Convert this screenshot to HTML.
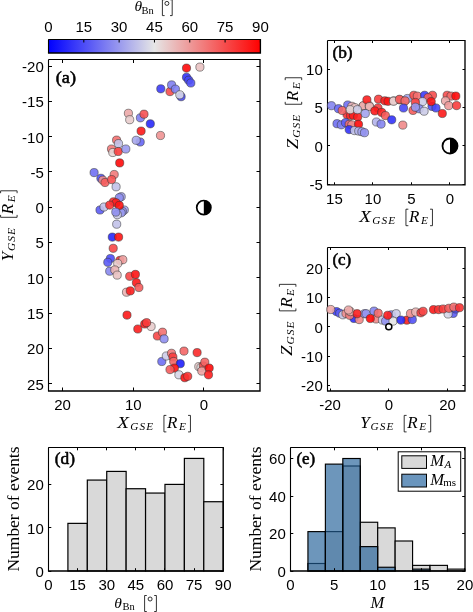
<!DOCTYPE html><html><head><meta charset="utf-8"><style>html,body{margin:0;padding:0;background:#fff;width:473px;height:612px;overflow:hidden}svg{display:block;will-change:transform}</style></head><body>
<svg width="473" height="612" viewBox="0 0 473 612">
<rect width="473" height="612" fill="#fff"/>
<defs><linearGradient id="cbg" x1="0" y1="0" x2="1" y2="0"><stop offset="0.0000" stop-color="#0000ff"/><stop offset="0.0556" stop-color="#1919fc"/><stop offset="0.1111" stop-color="#3333f9"/><stop offset="0.1667" stop-color="#4c4cf7"/><stop offset="0.2222" stop-color="#6666f4"/><stop offset="0.2778" stop-color="#8080f1"/><stop offset="0.3333" stop-color="#9999ee"/><stop offset="0.3889" stop-color="#b3b3eb"/><stop offset="0.4444" stop-color="#cccce8"/><stop offset="0.5000" stop-color="#e6e6e6"/><stop offset="0.5556" stop-color="#e8cccc"/><stop offset="0.6111" stop-color="#ebb2b2"/><stop offset="0.6667" stop-color="#ee9999"/><stop offset="0.7222" stop-color="#f18080"/><stop offset="0.7778" stop-color="#f46666"/><stop offset="0.8333" stop-color="#f64c4c"/><stop offset="0.8889" stop-color="#f93333"/><stop offset="0.9444" stop-color="#fc1a1a"/><stop offset="1.0000" stop-color="#ff0000"/></linearGradient></defs>
<rect x="48.5" y="39.5" width="211.89999999999998" height="13.5" fill="url(#cbg)"/>
<path d="M48.5 39.5 H260.4 M48.5 39.5 V53.0" fill="none" stroke="#000" stroke-width="1.1"/>
<path d="M47.95 53.0 H260.4 V38.95" fill="none" stroke="#000" stroke-width="1.35"/>
<line x1="48.50" y1="39.5" x2="48.50" y2="42.5" stroke="#000" stroke-width="1"/>
<text x="48.50" y="31.5" text-anchor="middle" font-family='"Liberation Sans", sans-serif' font-size="15.0" >0</text>
<line x1="83.82" y1="39.5" x2="83.82" y2="42.5" stroke="#000" stroke-width="1"/>
<text x="83.82" y="31.5" text-anchor="middle" font-family='"Liberation Sans", sans-serif' font-size="15.0" >15</text>
<line x1="119.13" y1="39.5" x2="119.13" y2="42.5" stroke="#000" stroke-width="1"/>
<text x="119.13" y="31.5" text-anchor="middle" font-family='"Liberation Sans", sans-serif' font-size="15.0" >30</text>
<line x1="154.45" y1="39.5" x2="154.45" y2="42.5" stroke="#000" stroke-width="1"/>
<text x="154.45" y="31.5" text-anchor="middle" font-family='"Liberation Sans", sans-serif' font-size="15.0" >45</text>
<line x1="189.77" y1="39.5" x2="189.77" y2="42.5" stroke="#000" stroke-width="1"/>
<text x="189.77" y="31.5" text-anchor="middle" font-family='"Liberation Sans", sans-serif' font-size="15.0" >60</text>
<line x1="225.08" y1="39.5" x2="225.08" y2="42.5" stroke="#000" stroke-width="1"/>
<text x="225.08" y="31.5" text-anchor="middle" font-family='"Liberation Sans", sans-serif' font-size="15.0" >75</text>
<line x1="260.40" y1="39.5" x2="260.40" y2="42.5" stroke="#000" stroke-width="1"/>
<text x="260.40" y="31.5" text-anchor="middle" font-family='"Liberation Sans", sans-serif' font-size="15.0" >90</text>
<path d="M48.5 59.5 H260.0 M48.5 59.5 V391.0" fill="none" stroke="#000" stroke-width="1.1"/>
<path d="M47.95 391.0 H260.0 V58.95" fill="none" stroke="#000" stroke-width="1.35"/>
<line x1="62.5" y1="391.0" x2="62.5" y2="387.5" stroke="#000" stroke-width="1"/>
<line x1="62.5" y1="59.5" x2="62.5" y2="63.0" stroke="#000" stroke-width="1"/>
<line x1="133.5" y1="391.0" x2="133.5" y2="387.5" stroke="#000" stroke-width="1"/>
<line x1="133.5" y1="59.5" x2="133.5" y2="63.0" stroke="#000" stroke-width="1"/>
<line x1="203.5" y1="391.0" x2="203.5" y2="387.5" stroke="#000" stroke-width="1"/>
<line x1="203.5" y1="59.5" x2="203.5" y2="63.0" stroke="#000" stroke-width="1"/>
<line x1="48.5" y1="66.5" x2="52.0" y2="66.5" stroke="#000" stroke-width="1"/>
<line x1="260.0" y1="66.5" x2="256.5" y2="66.5" stroke="#000" stroke-width="1"/>
<line x1="48.5" y1="101.5" x2="52.0" y2="101.5" stroke="#000" stroke-width="1"/>
<line x1="260.0" y1="101.5" x2="256.5" y2="101.5" stroke="#000" stroke-width="1"/>
<line x1="48.5" y1="136.5" x2="52.0" y2="136.5" stroke="#000" stroke-width="1"/>
<line x1="260.0" y1="136.5" x2="256.5" y2="136.5" stroke="#000" stroke-width="1"/>
<line x1="48.5" y1="171.5" x2="52.0" y2="171.5" stroke="#000" stroke-width="1"/>
<line x1="260.0" y1="171.5" x2="256.5" y2="171.5" stroke="#000" stroke-width="1"/>
<line x1="48.5" y1="207.5" x2="52.0" y2="207.5" stroke="#000" stroke-width="1"/>
<line x1="260.0" y1="207.5" x2="256.5" y2="207.5" stroke="#000" stroke-width="1"/>
<line x1="48.5" y1="242.5" x2="52.0" y2="242.5" stroke="#000" stroke-width="1"/>
<line x1="260.0" y1="242.5" x2="256.5" y2="242.5" stroke="#000" stroke-width="1"/>
<line x1="48.5" y1="277.5" x2="52.0" y2="277.5" stroke="#000" stroke-width="1"/>
<line x1="260.0" y1="277.5" x2="256.5" y2="277.5" stroke="#000" stroke-width="1"/>
<line x1="48.5" y1="313.5" x2="52.0" y2="313.5" stroke="#000" stroke-width="1"/>
<line x1="260.0" y1="313.5" x2="256.5" y2="313.5" stroke="#000" stroke-width="1"/>
<line x1="48.5" y1="348.5" x2="52.0" y2="348.5" stroke="#000" stroke-width="1"/>
<line x1="260.0" y1="348.5" x2="256.5" y2="348.5" stroke="#000" stroke-width="1"/>
<line x1="48.5" y1="383.5" x2="52.0" y2="383.5" stroke="#000" stroke-width="1"/>
<line x1="260.0" y1="383.5" x2="256.5" y2="383.5" stroke="#000" stroke-width="1"/>
<text x="62.62" y="410" text-anchor="middle" font-family='"Liberation Sans", sans-serif' font-size="15.0" >20</text>
<text x="133.22" y="410" text-anchor="middle" font-family='"Liberation Sans", sans-serif' font-size="15.0" >10</text>
<text x="203.82" y="410" text-anchor="middle" font-family='"Liberation Sans", sans-serif' font-size="15.0" >0</text>
<text x="43.80" y="71.96" text-anchor="end" font-family='"Liberation Sans", sans-serif' font-size="15.0" >-20</text>
<text x="43.80" y="107.26" text-anchor="end" font-family='"Liberation Sans", sans-serif' font-size="15.0" >-15</text>
<text x="43.80" y="142.56" text-anchor="end" font-family='"Liberation Sans", sans-serif' font-size="15.0" >-10</text>
<text x="43.80" y="177.86" text-anchor="end" font-family='"Liberation Sans", sans-serif' font-size="15.0" >-5</text>
<text x="43.80" y="213.16" text-anchor="end" font-family='"Liberation Sans", sans-serif' font-size="15.0" >0</text>
<text x="43.80" y="248.46" text-anchor="end" font-family='"Liberation Sans", sans-serif' font-size="15.0" >5</text>
<text x="43.80" y="283.76" text-anchor="end" font-family='"Liberation Sans", sans-serif' font-size="15.0" >10</text>
<text x="43.80" y="319.06" text-anchor="end" font-family='"Liberation Sans", sans-serif' font-size="15.0" >15</text>
<text x="43.80" y="354.36" text-anchor="end" font-family='"Liberation Sans", sans-serif' font-size="15.0" >20</text>
<text x="43.80" y="389.66" text-anchor="end" font-family='"Liberation Sans", sans-serif' font-size="15.0" >25</text>
<circle cx="186.5" cy="68.1" r="4.1" fill="#fe0a0a" fill-opacity="0.9" stroke="#333" stroke-opacity="0.7" stroke-width="0.75"/>
<circle cx="199.9" cy="67.1" r="4.1" fill="#e9c2c2" fill-opacity="0.9" stroke="#333" stroke-opacity="0.7" stroke-width="0.75"/>
<circle cx="186.5" cy="77.3" r="4.1" fill="#3333f9" fill-opacity="0.9" stroke="#333" stroke-opacity="0.7" stroke-width="0.75"/>
<circle cx="188.7" cy="80.2" r="4.1" fill="#4747f7" fill-opacity="0.9" stroke="#333" stroke-opacity="0.7" stroke-width="0.75"/>
<circle cx="190.8" cy="83.0" r="4.1" fill="#5252f6" fill-opacity="0.9" stroke="#333" stroke-opacity="0.7" stroke-width="0.75"/>
<circle cx="160.8" cy="88.8" r="4.1" fill="#3d3df8" fill-opacity="0.9" stroke="#333" stroke-opacity="0.7" stroke-width="0.75"/>
<circle cx="170.0" cy="91.6" r="4.1" fill="#f64c4c" fill-opacity="0.9" stroke="#333" stroke-opacity="0.7" stroke-width="0.75"/>
<circle cx="171.6" cy="84.9" r="4.1" fill="#8080f1" fill-opacity="0.9" stroke="#333" stroke-opacity="0.7" stroke-width="0.75"/>
<circle cx="181.1" cy="96.7" r="4.1" fill="#4c4cf7" fill-opacity="0.9" stroke="#333" stroke-opacity="0.7" stroke-width="0.75"/>
<circle cx="175.4" cy="89.1" r="4.1" fill="#8080f1" fill-opacity="0.9" stroke="#333" stroke-opacity="0.7" stroke-width="0.75"/>
<circle cx="179.8" cy="94.8" r="4.1" fill="#d6d6e7" fill-opacity="0.9" stroke="#333" stroke-opacity="0.7" stroke-width="0.75"/>
<circle cx="128.4" cy="113.3" r="4.1" fill="#eca8a8" fill-opacity="0.9" stroke="#333" stroke-opacity="0.7" stroke-width="0.75"/>
<circle cx="129.7" cy="119.7" r="4.1" fill="#e8cccc" fill-opacity="0.9" stroke="#333" stroke-opacity="0.7" stroke-width="0.75"/>
<circle cx="140.4" cy="117.8" r="4.1" fill="#8080f1" fill-opacity="0.9" stroke="#333" stroke-opacity="0.7" stroke-width="0.75"/>
<circle cx="144.0" cy="114.2" r="4.1" fill="#f65252" fill-opacity="0.9" stroke="#333" stroke-opacity="0.7" stroke-width="0.75"/>
<circle cx="150.3" cy="123.8" r="4.1" fill="#2929fa" fill-opacity="0.9" stroke="#333" stroke-opacity="0.7" stroke-width="0.75"/>
<circle cx="141.1" cy="131.1" r="4.1" fill="#fc1a1a" fill-opacity="0.9" stroke="#333" stroke-opacity="0.7" stroke-width="0.75"/>
<circle cx="160.5" cy="135.5" r="4.1" fill="#ef9494" fill-opacity="0.9" stroke="#333" stroke-opacity="0.7" stroke-width="0.75"/>
<circle cx="140.2" cy="142.0" r="4.1" fill="#6666f4" fill-opacity="0.9" stroke="#333" stroke-opacity="0.7" stroke-width="0.75"/>
<circle cx="136.2" cy="140.3" r="4.1" fill="#a8a8ec" fill-opacity="0.9" stroke="#333" stroke-opacity="0.7" stroke-width="0.75"/>
<circle cx="116.6" cy="140.1" r="4.1" fill="#f37070" fill-opacity="0.9" stroke="#333" stroke-opacity="0.7" stroke-width="0.75"/>
<circle cx="118.5" cy="143.6" r="4.1" fill="#c2c2e9" fill-opacity="0.9" stroke="#333" stroke-opacity="0.7" stroke-width="0.75"/>
<circle cx="111.5" cy="149.0" r="4.1" fill="#f17a7a" fill-opacity="0.9" stroke="#333" stroke-opacity="0.7" stroke-width="0.75"/>
<circle cx="112.8" cy="152.5" r="4.1" fill="#e7d6d6" fill-opacity="0.9" stroke="#333" stroke-opacity="0.7" stroke-width="0.75"/>
<circle cx="118.2" cy="151.5" r="4.1" fill="#f83d3d" fill-opacity="0.9" stroke="#333" stroke-opacity="0.7" stroke-width="0.75"/>
<circle cx="125.8" cy="149.0" r="4.1" fill="#9999ee" fill-opacity="0.9" stroke="#333" stroke-opacity="0.7" stroke-width="0.75"/>
<circle cx="119.7" cy="162.9" r="4.1" fill="#fe0a0a" fill-opacity="0.9" stroke="#333" stroke-opacity="0.7" stroke-width="0.75"/>
<circle cx="94.1" cy="172.6" r="4.1" fill="#7070f3" fill-opacity="0.9" stroke="#333" stroke-opacity="0.7" stroke-width="0.75"/>
<circle cx="100.9" cy="178.3" r="4.1" fill="#5252f6" fill-opacity="0.9" stroke="#333" stroke-opacity="0.7" stroke-width="0.75"/>
<circle cx="102.8" cy="180.2" r="4.1" fill="#ef8f8f" fill-opacity="0.9" stroke="#333" stroke-opacity="0.7" stroke-width="0.75"/>
<circle cx="105.0" cy="182.5" r="4.1" fill="#f55c5c" fill-opacity="0.9" stroke="#333" stroke-opacity="0.7" stroke-width="0.75"/>
<circle cx="114.2" cy="174.5" r="4.1" fill="#f17a7a" fill-opacity="0.9" stroke="#333" stroke-opacity="0.7" stroke-width="0.75"/>
<circle cx="111.6" cy="179.6" r="4.1" fill="#f65252" fill-opacity="0.9" stroke="#333" stroke-opacity="0.7" stroke-width="0.75"/>
<circle cx="116.1" cy="186.8" r="4.1" fill="#c2c2e9" fill-opacity="0.9" stroke="#333" stroke-opacity="0.7" stroke-width="0.75"/>
<circle cx="121.2" cy="196.7" r="4.1" fill="#a3a3ed" fill-opacity="0.9" stroke="#333" stroke-opacity="0.7" stroke-width="0.75"/>
<circle cx="119.3" cy="197.7" r="4.1" fill="#8f8fef" fill-opacity="0.9" stroke="#333" stroke-opacity="0.7" stroke-width="0.75"/>
<circle cx="124.3" cy="210.0" r="4.1" fill="#a3a3ed" fill-opacity="0.9" stroke="#333" stroke-opacity="0.7" stroke-width="0.75"/>
<circle cx="122.4" cy="211.5" r="4.1" fill="#9999ee" fill-opacity="0.9" stroke="#333" stroke-opacity="0.7" stroke-width="0.75"/>
<circle cx="121.2" cy="212.8" r="4.1" fill="#9999ee" fill-opacity="0.9" stroke="#333" stroke-opacity="0.7" stroke-width="0.75"/>
<circle cx="117.3" cy="214.7" r="4.1" fill="#cccce8" fill-opacity="0.9" stroke="#333" stroke-opacity="0.7" stroke-width="0.75"/>
<circle cx="113.5" cy="201.8" r="4.1" fill="#fa2929" fill-opacity="0.9" stroke="#333" stroke-opacity="0.7" stroke-width="0.75"/>
<circle cx="116.1" cy="202.8" r="4.1" fill="#fc1f1f" fill-opacity="0.9" stroke="#333" stroke-opacity="0.7" stroke-width="0.75"/>
<circle cx="100.0" cy="210.0" r="4.1" fill="#5c5cf5" fill-opacity="0.9" stroke="#333" stroke-opacity="0.7" stroke-width="0.75"/>
<circle cx="104.0" cy="207.0" r="4.1" fill="#c2c2e9" fill-opacity="0.9" stroke="#333" stroke-opacity="0.7" stroke-width="0.75"/>
<circle cx="109.7" cy="205.1" r="4.1" fill="#f93333" fill-opacity="0.9" stroke="#333" stroke-opacity="0.7" stroke-width="0.75"/>
<circle cx="119.3" cy="205.4" r="4.1" fill="#fd1414" fill-opacity="0.9" stroke="#333" stroke-opacity="0.7" stroke-width="0.75"/>
<circle cx="115.8" cy="212.1" r="4.1" fill="#8f8fef" fill-opacity="0.9" stroke="#333" stroke-opacity="0.7" stroke-width="0.75"/>
<circle cx="116.7" cy="224.2" r="4.1" fill="#c2c2e9" fill-opacity="0.9" stroke="#333" stroke-opacity="0.7" stroke-width="0.75"/>
<circle cx="112.3" cy="237.1" r="4.1" fill="#2929fa" fill-opacity="0.9" stroke="#333" stroke-opacity="0.7" stroke-width="0.75"/>
<circle cx="118.6" cy="237.1" r="4.1" fill="#fd1414" fill-opacity="0.9" stroke="#333" stroke-opacity="0.7" stroke-width="0.75"/>
<circle cx="113.2" cy="248.3" r="4.1" fill="#f74747" fill-opacity="0.9" stroke="#333" stroke-opacity="0.7" stroke-width="0.75"/>
<circle cx="110.4" cy="258.5" r="4.1" fill="#4c4cf7" fill-opacity="0.9" stroke="#333" stroke-opacity="0.7" stroke-width="0.75"/>
<circle cx="107.8" cy="262.3" r="4.1" fill="#5c5cf5" fill-opacity="0.9" stroke="#333" stroke-opacity="0.7" stroke-width="0.75"/>
<circle cx="119.9" cy="260.4" r="4.1" fill="#f93333" fill-opacity="0.9" stroke="#333" stroke-opacity="0.7" stroke-width="0.75"/>
<circle cx="122.8" cy="259.7" r="4.1" fill="#eda3a3" fill-opacity="0.9" stroke="#333" stroke-opacity="0.7" stroke-width="0.75"/>
<circle cx="117.7" cy="263.5" r="4.1" fill="#e8cccc" fill-opacity="0.9" stroke="#333" stroke-opacity="0.7" stroke-width="0.75"/>
<circle cx="109.7" cy="271.2" r="4.1" fill="#8a8af0" fill-opacity="0.9" stroke="#333" stroke-opacity="0.7" stroke-width="0.75"/>
<circle cx="114.8" cy="269.9" r="4.1" fill="#ebb2b2" fill-opacity="0.9" stroke="#333" stroke-opacity="0.7" stroke-width="0.75"/>
<circle cx="117.2" cy="275.1" r="4.1" fill="#e9c2c2" fill-opacity="0.9" stroke="#333" stroke-opacity="0.7" stroke-width="0.75"/>
<circle cx="129.7" cy="276.3" r="4.1" fill="#f74747" fill-opacity="0.9" stroke="#333" stroke-opacity="0.7" stroke-width="0.75"/>
<circle cx="135.4" cy="274.4" r="4.1" fill="#fd1414" fill-opacity="0.9" stroke="#333" stroke-opacity="0.7" stroke-width="0.75"/>
<circle cx="136.4" cy="282.7" r="4.1" fill="#fc1a1a" fill-opacity="0.9" stroke="#333" stroke-opacity="0.7" stroke-width="0.75"/>
<circle cx="138.9" cy="287.5" r="4.1" fill="#f55c5c" fill-opacity="0.9" stroke="#333" stroke-opacity="0.7" stroke-width="0.75"/>
<circle cx="126.5" cy="292.2" r="4.1" fill="#ebb2b2" fill-opacity="0.9" stroke="#333" stroke-opacity="0.7" stroke-width="0.75"/>
<circle cx="130.3" cy="290.9" r="4.1" fill="#fc1f1f" fill-opacity="0.9" stroke="#333" stroke-opacity="0.7" stroke-width="0.75"/>
<circle cx="127.0" cy="315.1" r="4.1" fill="#fc1a1a" fill-opacity="0.9" stroke="#333" stroke-opacity="0.7" stroke-width="0.75"/>
<circle cx="151.1" cy="326.5" r="4.1" fill="#e8cccc" fill-opacity="0.9" stroke="#333" stroke-opacity="0.7" stroke-width="0.75"/>
<circle cx="137.8" cy="329.0" r="4.1" fill="#fc1f1f" fill-opacity="0.9" stroke="#333" stroke-opacity="0.7" stroke-width="0.75"/>
<circle cx="144.7" cy="324.0" r="4.1" fill="#fd1414" fill-opacity="0.9" stroke="#333" stroke-opacity="0.7" stroke-width="0.75"/>
<circle cx="146.6" cy="322.7" r="4.1" fill="#f83d3d" fill-opacity="0.9" stroke="#333" stroke-opacity="0.7" stroke-width="0.75"/>
<circle cx="157.4" cy="336.0" r="4.1" fill="#f74747" fill-opacity="0.9" stroke="#333" stroke-opacity="0.7" stroke-width="0.75"/>
<circle cx="162.5" cy="332.2" r="4.1" fill="#f37070" fill-opacity="0.9" stroke="#333" stroke-opacity="0.7" stroke-width="0.75"/>
<circle cx="164.1" cy="338.9" r="4.1" fill="#8f8fef" fill-opacity="0.9" stroke="#333" stroke-opacity="0.7" stroke-width="0.75"/>
<circle cx="184.0" cy="351.1" r="4.1" fill="#f46666" fill-opacity="0.9" stroke="#333" stroke-opacity="0.7" stroke-width="0.75"/>
<circle cx="197.1" cy="352.6" r="4.1" fill="#fa2929" fill-opacity="0.9" stroke="#333" stroke-opacity="0.7" stroke-width="0.75"/>
<circle cx="161.8" cy="361.5" r="4.1" fill="#7070f3" fill-opacity="0.9" stroke="#333" stroke-opacity="0.7" stroke-width="0.75"/>
<circle cx="166.3" cy="356.0" r="4.1" fill="#cccce8" fill-opacity="0.9" stroke="#333" stroke-opacity="0.7" stroke-width="0.75"/>
<circle cx="171.5" cy="353.3" r="4.1" fill="#f17a7a" fill-opacity="0.9" stroke="#333" stroke-opacity="0.7" stroke-width="0.75"/>
<circle cx="172.9" cy="357.0" r="4.1" fill="#f83d3d" fill-opacity="0.9" stroke="#333" stroke-opacity="0.7" stroke-width="0.75"/>
<circle cx="173.7" cy="361.5" r="4.1" fill="#f46666" fill-opacity="0.9" stroke="#333" stroke-opacity="0.7" stroke-width="0.75"/>
<circle cx="180.3" cy="363.7" r="4.1" fill="#1f1ffc" fill-opacity="0.9" stroke="#333" stroke-opacity="0.7" stroke-width="0.75"/>
<circle cx="174.4" cy="368.1" r="4.1" fill="#fd1414" fill-opacity="0.9" stroke="#333" stroke-opacity="0.7" stroke-width="0.75"/>
<circle cx="170.0" cy="369.6" r="4.1" fill="#f55c5c" fill-opacity="0.9" stroke="#333" stroke-opacity="0.7" stroke-width="0.75"/>
<circle cx="178.9" cy="374.8" r="4.1" fill="#d6d6e7" fill-opacity="0.9" stroke="#333" stroke-opacity="0.7" stroke-width="0.75"/>
<circle cx="184.8" cy="377.7" r="4.1" fill="#fd1414" fill-opacity="0.9" stroke="#333" stroke-opacity="0.7" stroke-width="0.75"/>
<circle cx="187.7" cy="376.3" r="4.1" fill="#f93333" fill-opacity="0.9" stroke="#333" stroke-opacity="0.7" stroke-width="0.75"/>
<circle cx="198.8" cy="366.6" r="4.1" fill="#e8cccc" fill-opacity="0.9" stroke="#333" stroke-opacity="0.7" stroke-width="0.75"/>
<circle cx="201.0" cy="367.4" r="4.1" fill="#e6e6e6" fill-opacity="0.9" stroke="#333" stroke-opacity="0.7" stroke-width="0.75"/>
<circle cx="203.3" cy="365.9" r="4.1" fill="#f74747" fill-opacity="0.9" stroke="#333" stroke-opacity="0.7" stroke-width="0.75"/>
<circle cx="204.8" cy="362.2" r="4.1" fill="#f46666" fill-opacity="0.9" stroke="#333" stroke-opacity="0.7" stroke-width="0.75"/>
<circle cx="201.8" cy="371.1" r="4.1" fill="#eda3a3" fill-opacity="0.9" stroke="#333" stroke-opacity="0.7" stroke-width="0.75"/>
<circle cx="209.2" cy="368.1" r="4.1" fill="#fe0a0a" fill-opacity="0.9" stroke="#333" stroke-opacity="0.7" stroke-width="0.75"/>
<circle cx="208.5" cy="374.8" r="4.1" fill="#fc1f1f" fill-opacity="0.9" stroke="#333" stroke-opacity="0.7" stroke-width="0.75"/>
<path d="M327.5 40.5 H465.0 M327.5 40.5 V184.8" fill="none" stroke="#000" stroke-width="1.1"/>
<path d="M326.95 184.8 H465.0 V39.95" fill="none" stroke="#000" stroke-width="1.35"/>
<line x1="334.5" y1="184.8" x2="334.5" y2="182.3" stroke="#000" stroke-width="1"/>
<line x1="334.5" y1="40.5" x2="334.5" y2="43.0" stroke="#000" stroke-width="1"/>
<line x1="372.5" y1="184.8" x2="372.5" y2="182.3" stroke="#000" stroke-width="1"/>
<line x1="372.5" y1="40.5" x2="372.5" y2="43.0" stroke="#000" stroke-width="1"/>
<line x1="411.5" y1="184.8" x2="411.5" y2="182.3" stroke="#000" stroke-width="1"/>
<line x1="411.5" y1="40.5" x2="411.5" y2="43.0" stroke="#000" stroke-width="1"/>
<line x1="449.5" y1="184.8" x2="449.5" y2="182.3" stroke="#000" stroke-width="1"/>
<line x1="449.5" y1="40.5" x2="449.5" y2="43.0" stroke="#000" stroke-width="1"/>
<line x1="327.5" y1="69.5" x2="330.0" y2="69.5" stroke="#000" stroke-width="1"/>
<line x1="465.0" y1="69.5" x2="462.5" y2="69.5" stroke="#000" stroke-width="1"/>
<line x1="327.5" y1="107.5" x2="330.0" y2="107.5" stroke="#000" stroke-width="1"/>
<line x1="465.0" y1="107.5" x2="462.5" y2="107.5" stroke="#000" stroke-width="1"/>
<line x1="327.5" y1="145.5" x2="330.0" y2="145.5" stroke="#000" stroke-width="1"/>
<line x1="465.0" y1="145.5" x2="462.5" y2="145.5" stroke="#000" stroke-width="1"/>
<line x1="327.5" y1="184.5" x2="330.0" y2="184.5" stroke="#000" stroke-width="1"/>
<line x1="465.0" y1="184.5" x2="462.5" y2="184.5" stroke="#000" stroke-width="1"/>
<text x="334.45" y="204" text-anchor="middle" font-family='"Liberation Sans", sans-serif' font-size="15.0" >15</text>
<text x="372.90" y="204" text-anchor="middle" font-family='"Liberation Sans", sans-serif' font-size="15.0" >10</text>
<text x="411.35" y="204" text-anchor="middle" font-family='"Liberation Sans", sans-serif' font-size="15.0" >5</text>
<text x="449.80" y="204" text-anchor="middle" font-family='"Liberation Sans", sans-serif' font-size="15.0" >0</text>
<text x="322.80" y="74.90" text-anchor="end" font-family='"Liberation Sans", sans-serif' font-size="15.0" >10</text>
<text x="322.80" y="113.35" text-anchor="end" font-family='"Liberation Sans", sans-serif' font-size="15.0" >5</text>
<text x="322.80" y="151.80" text-anchor="end" font-family='"Liberation Sans", sans-serif' font-size="15.0" >0</text>
<text x="322.80" y="190.25" text-anchor="end" font-family='"Liberation Sans", sans-serif' font-size="15.0" >-5</text>
<circle cx="331.4" cy="105.7" r="4.1" fill="#8585f0" fill-opacity="0.9" stroke="#333" stroke-opacity="0.7" stroke-width="0.75"/>
<circle cx="338.5" cy="108.7" r="4.1" fill="#6666f4" fill-opacity="0.9" stroke="#333" stroke-opacity="0.7" stroke-width="0.75"/>
<circle cx="347.7" cy="105.0" r="4.1" fill="#7070f3" fill-opacity="0.9" stroke="#333" stroke-opacity="0.7" stroke-width="0.75"/>
<circle cx="351.9" cy="106.3" r="4.1" fill="#ebb2b2" fill-opacity="0.9" stroke="#333" stroke-opacity="0.7" stroke-width="0.75"/>
<circle cx="354.9" cy="107.6" r="4.1" fill="#e9c2c2" fill-opacity="0.9" stroke="#333" stroke-opacity="0.7" stroke-width="0.75"/>
<circle cx="362.9" cy="106.3" r="4.1" fill="#e8cccc" fill-opacity="0.9" stroke="#333" stroke-opacity="0.7" stroke-width="0.75"/>
<circle cx="363.3" cy="105.7" r="4.1" fill="#eca8a8" fill-opacity="0.9" stroke="#333" stroke-opacity="0.7" stroke-width="0.75"/>
<circle cx="369.2" cy="105.7" r="4.1" fill="#eabdbd" fill-opacity="0.9" stroke="#333" stroke-opacity="0.7" stroke-width="0.75"/>
<circle cx="378.0" cy="108.0" r="4.1" fill="#f83d3d" fill-opacity="0.9" stroke="#333" stroke-opacity="0.7" stroke-width="0.75"/>
<circle cx="347.0" cy="114.6" r="4.1" fill="#f93333" fill-opacity="0.9" stroke="#333" stroke-opacity="0.7" stroke-width="0.75"/>
<circle cx="350.5" cy="115.5" r="4.1" fill="#fa2929" fill-opacity="0.9" stroke="#333" stroke-opacity="0.7" stroke-width="0.75"/>
<circle cx="353.4" cy="115.3" r="4.1" fill="#fc1f1f" fill-opacity="0.9" stroke="#333" stroke-opacity="0.7" stroke-width="0.75"/>
<circle cx="357.7" cy="116.9" r="4.1" fill="#fc1f1f" fill-opacity="0.9" stroke="#333" stroke-opacity="0.7" stroke-width="0.75"/>
<circle cx="342.2" cy="110.5" r="4.1" fill="#f46666" fill-opacity="0.9" stroke="#333" stroke-opacity="0.7" stroke-width="0.75"/>
<circle cx="350.2" cy="109.7" r="4.1" fill="#e7d6d6" fill-opacity="0.9" stroke="#333" stroke-opacity="0.7" stroke-width="0.75"/>
<circle cx="357.4" cy="109.7" r="4.1" fill="#cccce8" fill-opacity="0.9" stroke="#333" stroke-opacity="0.7" stroke-width="0.75"/>
<circle cx="366.9" cy="99.8" r="4.1" fill="#fc1f1f" fill-opacity="0.9" stroke="#333" stroke-opacity="0.7" stroke-width="0.75"/>
<circle cx="378.5" cy="99.2" r="4.1" fill="#f83d3d" fill-opacity="0.9" stroke="#333" stroke-opacity="0.7" stroke-width="0.75"/>
<circle cx="384.8" cy="100.8" r="4.1" fill="#fc1f1f" fill-opacity="0.9" stroke="#333" stroke-opacity="0.7" stroke-width="0.75"/>
<circle cx="388.0" cy="101.3" r="4.1" fill="#fd1414" fill-opacity="0.9" stroke="#333" stroke-opacity="0.7" stroke-width="0.75"/>
<circle cx="393.8" cy="100.8" r="4.1" fill="#e7d6d6" fill-opacity="0.9" stroke="#333" stroke-opacity="0.7" stroke-width="0.75"/>
<circle cx="399.6" cy="99.8" r="4.1" fill="#f55c5c" fill-opacity="0.9" stroke="#333" stroke-opacity="0.7" stroke-width="0.75"/>
<circle cx="404.4" cy="100.8" r="4.1" fill="#f17a7a" fill-opacity="0.9" stroke="#333" stroke-opacity="0.7" stroke-width="0.75"/>
<circle cx="369.5" cy="106.6" r="4.1" fill="#ebb2b2" fill-opacity="0.9" stroke="#333" stroke-opacity="0.7" stroke-width="0.75"/>
<circle cx="365.3" cy="113.5" r="4.1" fill="#a3a3ed" fill-opacity="0.9" stroke="#333" stroke-opacity="0.7" stroke-width="0.75"/>
<circle cx="374.8" cy="110.9" r="4.1" fill="#fc1a1a" fill-opacity="0.9" stroke="#333" stroke-opacity="0.7" stroke-width="0.75"/>
<circle cx="381.7" cy="112.4" r="4.1" fill="#fc1f1f" fill-opacity="0.9" stroke="#333" stroke-opacity="0.7" stroke-width="0.75"/>
<circle cx="385.4" cy="115.6" r="4.1" fill="#f55c5c" fill-opacity="0.9" stroke="#333" stroke-opacity="0.7" stroke-width="0.75"/>
<circle cx="337.0" cy="123.7" r="4.1" fill="#7070f3" fill-opacity="0.9" stroke="#333" stroke-opacity="0.7" stroke-width="0.75"/>
<circle cx="341.3" cy="124.8" r="4.1" fill="#8080f1" fill-opacity="0.9" stroke="#333" stroke-opacity="0.7" stroke-width="0.75"/>
<circle cx="345.5" cy="122.7" r="4.1" fill="#5c5cf5" fill-opacity="0.9" stroke="#333" stroke-opacity="0.7" stroke-width="0.75"/>
<circle cx="349.2" cy="124.3" r="4.1" fill="#f36b6b" fill-opacity="0.9" stroke="#333" stroke-opacity="0.7" stroke-width="0.75"/>
<circle cx="351.8" cy="124.8" r="4.1" fill="#f08a8a" fill-opacity="0.9" stroke="#333" stroke-opacity="0.7" stroke-width="0.75"/>
<circle cx="358.5" cy="124.3" r="4.1" fill="#fe0a0a" fill-opacity="0.9" stroke="#333" stroke-opacity="0.7" stroke-width="0.75"/>
<circle cx="349.2" cy="129.6" r="4.1" fill="#3333f9" fill-opacity="0.9" stroke="#333" stroke-opacity="0.7" stroke-width="0.75"/>
<circle cx="354.5" cy="130.6" r="4.1" fill="#c2c2e9" fill-opacity="0.9" stroke="#333" stroke-opacity="0.7" stroke-width="0.75"/>
<circle cx="358.7" cy="131.1" r="4.1" fill="#b3b3eb" fill-opacity="0.9" stroke="#333" stroke-opacity="0.7" stroke-width="0.75"/>
<circle cx="361.9" cy="131.7" r="4.1" fill="#a3a3ed" fill-opacity="0.9" stroke="#333" stroke-opacity="0.7" stroke-width="0.75"/>
<circle cx="364.5" cy="132.7" r="4.1" fill="#9494ef" fill-opacity="0.9" stroke="#333" stroke-opacity="0.7" stroke-width="0.75"/>
<circle cx="376.4" cy="122.0" r="4.1" fill="#b3b3eb" fill-opacity="0.9" stroke="#333" stroke-opacity="0.7" stroke-width="0.75"/>
<circle cx="381.1" cy="124.1" r="4.1" fill="#8585f0" fill-opacity="0.9" stroke="#333" stroke-opacity="0.7" stroke-width="0.75"/>
<circle cx="391.7" cy="119.8" r="4.1" fill="#3333f9" fill-opacity="0.9" stroke="#333" stroke-opacity="0.7" stroke-width="0.75"/>
<circle cx="402.8" cy="125.1" r="4.1" fill="#f08a8a" fill-opacity="0.9" stroke="#333" stroke-opacity="0.7" stroke-width="0.75"/>
<circle cx="393.5" cy="101.2" r="4.1" fill="#e8cccc" fill-opacity="0.9" stroke="#333" stroke-opacity="0.7" stroke-width="0.75"/>
<circle cx="399.5" cy="99.3" r="4.1" fill="#f55c5c" fill-opacity="0.9" stroke="#333" stroke-opacity="0.7" stroke-width="0.75"/>
<circle cx="407.4" cy="98.5" r="4.1" fill="#a3a3ed" fill-opacity="0.9" stroke="#333" stroke-opacity="0.7" stroke-width="0.75"/>
<circle cx="405.1" cy="100.9" r="4.1" fill="#f36b6b" fill-opacity="0.9" stroke="#333" stroke-opacity="0.7" stroke-width="0.75"/>
<circle cx="403.5" cy="108.0" r="4.1" fill="#4747f7" fill-opacity="0.9" stroke="#333" stroke-opacity="0.7" stroke-width="0.75"/>
<circle cx="413.8" cy="95.3" r="4.1" fill="#f64c4c" fill-opacity="0.9" stroke="#333" stroke-opacity="0.7" stroke-width="0.75"/>
<circle cx="417.3" cy="96.1" r="4.1" fill="#f37070" fill-opacity="0.9" stroke="#333" stroke-opacity="0.7" stroke-width="0.75"/>
<circle cx="424.6" cy="95.3" r="4.1" fill="#3d3df8" fill-opacity="0.9" stroke="#333" stroke-opacity="0.7" stroke-width="0.75"/>
<circle cx="432.5" cy="95.3" r="4.1" fill="#f64c4c" fill-opacity="0.9" stroke="#333" stroke-opacity="0.7" stroke-width="0.75"/>
<circle cx="428.0" cy="97.7" r="4.1" fill="#f55c5c" fill-opacity="0.9" stroke="#333" stroke-opacity="0.7" stroke-width="0.75"/>
<circle cx="422.5" cy="101.6" r="4.1" fill="#cccce8" fill-opacity="0.9" stroke="#333" stroke-opacity="0.7" stroke-width="0.75"/>
<circle cx="415.4" cy="102.4" r="4.1" fill="#f83d3d" fill-opacity="0.9" stroke="#333" stroke-opacity="0.7" stroke-width="0.75"/>
<circle cx="413.0" cy="110.4" r="4.1" fill="#f55c5c" fill-opacity="0.9" stroke="#333" stroke-opacity="0.7" stroke-width="0.75"/>
<circle cx="419.3" cy="108.8" r="4.1" fill="#8585f0" fill-opacity="0.9" stroke="#333" stroke-opacity="0.7" stroke-width="0.75"/>
<circle cx="415.4" cy="107.2" r="4.1" fill="#9999ee" fill-opacity="0.9" stroke="#333" stroke-opacity="0.7" stroke-width="0.75"/>
<circle cx="424.1" cy="111.2" r="4.1" fill="#cccce8" fill-opacity="0.9" stroke="#333" stroke-opacity="0.7" stroke-width="0.75"/>
<circle cx="432.0" cy="106.4" r="4.1" fill="#5252f6" fill-opacity="0.9" stroke="#333" stroke-opacity="0.7" stroke-width="0.75"/>
<circle cx="436.0" cy="108.0" r="4.1" fill="#4747f7" fill-opacity="0.9" stroke="#333" stroke-opacity="0.7" stroke-width="0.75"/>
<circle cx="447.1" cy="95.3" r="4.1" fill="#f64c4c" fill-opacity="0.9" stroke="#333" stroke-opacity="0.7" stroke-width="0.75"/>
<circle cx="451.0" cy="96.1" r="4.1" fill="#f36b6b" fill-opacity="0.9" stroke="#333" stroke-opacity="0.7" stroke-width="0.75"/>
<circle cx="455.8" cy="96.1" r="4.1" fill="#fe0a0a" fill-opacity="0.9" stroke="#333" stroke-opacity="0.7" stroke-width="0.75"/>
<circle cx="445.5" cy="100.9" r="4.1" fill="#eca8a8" fill-opacity="0.9" stroke="#333" stroke-opacity="0.7" stroke-width="0.75"/>
<circle cx="448.7" cy="105.6" r="4.1" fill="#ee9999" fill-opacity="0.9" stroke="#333" stroke-opacity="0.7" stroke-width="0.75"/>
<circle cx="456.6" cy="105.6" r="4.1" fill="#f83d3d" fill-opacity="0.9" stroke="#333" stroke-opacity="0.7" stroke-width="0.75"/>
<circle cx="442.3" cy="113.5" r="4.1" fill="#fc1a1a" fill-opacity="0.9" stroke="#333" stroke-opacity="0.7" stroke-width="0.75"/>
<circle cx="431.2" cy="101.6" r="4.1" fill="#fd1414" fill-opacity="0.9" stroke="#333" stroke-opacity="0.7" stroke-width="0.75"/>
<path d="M327.5 247.5 H465.0 M327.5 247.5 V391.0" fill="none" stroke="#000" stroke-width="1.1"/>
<path d="M326.95 391.0 H465.0 V246.95" fill="none" stroke="#000" stroke-width="1.35"/>
<line x1="330.5" y1="391.0" x2="330.5" y2="388.5" stroke="#000" stroke-width="1"/>
<line x1="330.5" y1="247.5" x2="330.5" y2="250.0" stroke="#000" stroke-width="1"/>
<line x1="388.5" y1="391.0" x2="388.5" y2="388.5" stroke="#000" stroke-width="1"/>
<line x1="388.5" y1="247.5" x2="388.5" y2="250.0" stroke="#000" stroke-width="1"/>
<line x1="447.5" y1="391.0" x2="447.5" y2="388.5" stroke="#000" stroke-width="1"/>
<line x1="447.5" y1="247.5" x2="447.5" y2="250.0" stroke="#000" stroke-width="1"/>
<line x1="327.5" y1="268.5" x2="330.0" y2="268.5" stroke="#000" stroke-width="1"/>
<line x1="465.0" y1="268.5" x2="462.5" y2="268.5" stroke="#000" stroke-width="1"/>
<line x1="327.5" y1="297.5" x2="330.0" y2="297.5" stroke="#000" stroke-width="1"/>
<line x1="465.0" y1="297.5" x2="462.5" y2="297.5" stroke="#000" stroke-width="1"/>
<line x1="327.5" y1="326.5" x2="330.0" y2="326.5" stroke="#000" stroke-width="1"/>
<line x1="465.0" y1="326.5" x2="462.5" y2="326.5" stroke="#000" stroke-width="1"/>
<line x1="327.5" y1="356.5" x2="330.0" y2="356.5" stroke="#000" stroke-width="1"/>
<line x1="465.0" y1="356.5" x2="462.5" y2="356.5" stroke="#000" stroke-width="1"/>
<line x1="327.5" y1="385.5" x2="330.0" y2="385.5" stroke="#000" stroke-width="1"/>
<line x1="465.0" y1="385.5" x2="462.5" y2="385.5" stroke="#000" stroke-width="1"/>
<text x="330.00" y="410" text-anchor="middle" font-family='"Liberation Sans", sans-serif' font-size="15.0" >-20</text>
<text x="388.80" y="410" text-anchor="middle" font-family='"Liberation Sans", sans-serif' font-size="15.0" >0</text>
<text x="447.60" y="410" text-anchor="middle" font-family='"Liberation Sans", sans-serif' font-size="15.0" >20</text>
<text x="322.80" y="274.00" text-anchor="end" font-family='"Liberation Sans", sans-serif' font-size="15.0" >20</text>
<text x="322.80" y="303.35" text-anchor="end" font-family='"Liberation Sans", sans-serif' font-size="15.0" >10</text>
<text x="322.80" y="332.70" text-anchor="end" font-family='"Liberation Sans", sans-serif' font-size="15.0" >0</text>
<text x="322.80" y="362.05" text-anchor="end" font-family='"Liberation Sans", sans-serif' font-size="15.0" >-10</text>
<text x="322.80" y="391.40" text-anchor="end" font-family='"Liberation Sans", sans-serif' font-size="15.0" >-20</text>
<circle cx="354.0" cy="318.5" r="4.1" fill="#2e2efa" fill-opacity="0.9" stroke="#333" stroke-opacity="0.7" stroke-width="0.75"/>
<circle cx="336.5" cy="311.6" r="4.1" fill="#3d3df8" fill-opacity="0.9" stroke="#333" stroke-opacity="0.7" stroke-width="0.75"/>
<circle cx="339.7" cy="313.2" r="4.1" fill="#5c5cf5" fill-opacity="0.9" stroke="#333" stroke-opacity="0.7" stroke-width="0.75"/>
<circle cx="342.9" cy="314.8" r="4.1" fill="#cccce8" fill-opacity="0.9" stroke="#333" stroke-opacity="0.7" stroke-width="0.75"/>
<circle cx="330.7" cy="309.5" r="4.1" fill="#eca8a8" fill-opacity="0.9" stroke="#333" stroke-opacity="0.7" stroke-width="0.75"/>
<circle cx="346.0" cy="313.5" r="4.1" fill="#ef8f8f" fill-opacity="0.9" stroke="#333" stroke-opacity="0.7" stroke-width="0.75"/>
<circle cx="349.7" cy="315.3" r="4.1" fill="#f17a7a" fill-opacity="0.9" stroke="#333" stroke-opacity="0.7" stroke-width="0.75"/>
<circle cx="350.3" cy="311.6" r="4.1" fill="#ebb2b2" fill-opacity="0.9" stroke="#333" stroke-opacity="0.7" stroke-width="0.75"/>
<circle cx="348.5" cy="310.0" r="4.1" fill="#eca8a8" fill-opacity="0.9" stroke="#333" stroke-opacity="0.7" stroke-width="0.75"/>
<circle cx="359.2" cy="319.6" r="4.1" fill="#f08a8a" fill-opacity="0.9" stroke="#333" stroke-opacity="0.7" stroke-width="0.75"/>
<circle cx="364.5" cy="313.7" r="4.1" fill="#a3a3ed" fill-opacity="0.9" stroke="#333" stroke-opacity="0.7" stroke-width="0.75"/>
<circle cx="357.1" cy="313.7" r="4.1" fill="#fc1f1f" fill-opacity="0.9" stroke="#333" stroke-opacity="0.7" stroke-width="0.75"/>
<circle cx="366.1" cy="313.7" r="4.1" fill="#9494ef" fill-opacity="0.9" stroke="#333" stroke-opacity="0.7" stroke-width="0.75"/>
<circle cx="374.0" cy="311.1" r="4.1" fill="#8585f0" fill-opacity="0.9" stroke="#333" stroke-opacity="0.7" stroke-width="0.75"/>
<circle cx="376.1" cy="319.0" r="4.1" fill="#f08a8a" fill-opacity="0.9" stroke="#333" stroke-opacity="0.7" stroke-width="0.75"/>
<circle cx="378.2" cy="313.2" r="4.1" fill="#f36b6b" fill-opacity="0.9" stroke="#333" stroke-opacity="0.7" stroke-width="0.75"/>
<circle cx="370.3" cy="318.5" r="4.1" fill="#fe0a0a" fill-opacity="0.9" stroke="#333" stroke-opacity="0.7" stroke-width="0.75"/>
<circle cx="382.4" cy="320.1" r="4.1" fill="#cccce8" fill-opacity="0.9" stroke="#333" stroke-opacity="0.7" stroke-width="0.75"/>
<circle cx="391.4" cy="314.8" r="4.1" fill="#8585f0" fill-opacity="0.9" stroke="#333" stroke-opacity="0.7" stroke-width="0.75"/>
<circle cx="396.2" cy="313.7" r="4.1" fill="#cccce8" fill-opacity="0.9" stroke="#333" stroke-opacity="0.7" stroke-width="0.75"/>
<circle cx="385.6" cy="321.1" r="4.1" fill="#9494ef" fill-opacity="0.9" stroke="#333" stroke-opacity="0.7" stroke-width="0.75"/>
<circle cx="393.0" cy="321.1" r="4.1" fill="#e6e6e6" fill-opacity="0.9" stroke="#333" stroke-opacity="0.7" stroke-width="0.75"/>
<circle cx="387.7" cy="315.3" r="4.1" fill="#fc1f1f" fill-opacity="0.9" stroke="#333" stroke-opacity="0.7" stroke-width="0.75"/>
<circle cx="406.8" cy="320.2" r="4.1" fill="#fc1f1f" fill-opacity="0.9" stroke="#333" stroke-opacity="0.7" stroke-width="0.75"/>
<circle cx="400.9" cy="320.1" r="4.1" fill="#2e2efa" fill-opacity="0.9" stroke="#333" stroke-opacity="0.7" stroke-width="0.75"/>
<circle cx="412.3" cy="319.6" r="4.1" fill="#5252f6" fill-opacity="0.9" stroke="#333" stroke-opacity="0.7" stroke-width="0.75"/>
<circle cx="410.5" cy="313.5" r="4.1" fill="#ef8f8f" fill-opacity="0.9" stroke="#333" stroke-opacity="0.7" stroke-width="0.75"/>
<circle cx="415.7" cy="312.0" r="4.1" fill="#ebb2b2" fill-opacity="0.9" stroke="#333" stroke-opacity="0.7" stroke-width="0.75"/>
<circle cx="420.9" cy="312.8" r="4.1" fill="#f83d3d" fill-opacity="0.9" stroke="#333" stroke-opacity="0.7" stroke-width="0.75"/>
<circle cx="423.1" cy="311.3" r="4.1" fill="#f74747" fill-opacity="0.9" stroke="#333" stroke-opacity="0.7" stroke-width="0.75"/>
<circle cx="453.2" cy="313.4" r="4.1" fill="#5c5cf5" fill-opacity="0.9" stroke="#333" stroke-opacity="0.7" stroke-width="0.75"/>
<circle cx="455.7" cy="309.0" r="4.1" fill="#5252f6" fill-opacity="0.9" stroke="#333" stroke-opacity="0.7" stroke-width="0.75"/>
<circle cx="448.1" cy="314.0" r="4.1" fill="#d6d6e7" fill-opacity="0.9" stroke="#333" stroke-opacity="0.7" stroke-width="0.75"/>
<circle cx="433.5" cy="309.6" r="4.1" fill="#fc1a1a" fill-opacity="0.9" stroke="#333" stroke-opacity="0.7" stroke-width="0.75"/>
<circle cx="438.6" cy="309.6" r="4.1" fill="#f93333" fill-opacity="0.9" stroke="#333" stroke-opacity="0.7" stroke-width="0.75"/>
<circle cx="443.1" cy="309.0" r="4.1" fill="#f83d3d" fill-opacity="0.9" stroke="#333" stroke-opacity="0.7" stroke-width="0.75"/>
<circle cx="448.8" cy="308.3" r="4.1" fill="#f55c5c" fill-opacity="0.9" stroke="#333" stroke-opacity="0.7" stroke-width="0.75"/>
<circle cx="453.8" cy="307.1" r="4.1" fill="#f37070" fill-opacity="0.9" stroke="#333" stroke-opacity="0.7" stroke-width="0.75"/>
<circle cx="459.5" cy="307.7" r="4.1" fill="#f93333" fill-opacity="0.9" stroke="#333" stroke-opacity="0.7" stroke-width="0.75"/>
<rect x="67.91" y="523.37" width="19.41" height="47.63" fill="#d9d9d9" stroke="#000" stroke-width="1.2"/>
<rect x="87.32" y="480.07" width="19.41" height="90.93" fill="#d9d9d9" stroke="#000" stroke-width="1.2"/>
<rect x="106.73" y="471.41" width="19.41" height="99.59" fill="#d9d9d9" stroke="#000" stroke-width="1.2"/>
<rect x="126.14" y="488.73" width="19.41" height="82.27" fill="#d9d9d9" stroke="#000" stroke-width="1.2"/>
<rect x="145.56" y="493.06" width="19.41" height="77.94" fill="#d9d9d9" stroke="#000" stroke-width="1.2"/>
<rect x="164.97" y="484.40" width="19.41" height="86.60" fill="#d9d9d9" stroke="#000" stroke-width="1.2"/>
<rect x="184.38" y="458.42" width="19.41" height="112.58" fill="#d9d9d9" stroke="#000" stroke-width="1.2"/>
<rect x="203.79" y="501.72" width="19.41" height="69.28" fill="#d9d9d9" stroke="#000" stroke-width="1.2"/>
<path d="M48.5 447.5 H223.2 M48.5 447.5 V571.0" fill="none" stroke="#000" stroke-width="1.1"/>
<path d="M47.95 571.0 H223.2 V446.95" fill="none" stroke="#000" stroke-width="1.35"/>
<line x1="48.5" y1="571.0" x2="48.5" y2="568.2" stroke="#000" stroke-width="1"/>
<line x1="48.5" y1="447.5" x2="48.5" y2="450.3" stroke="#000" stroke-width="1"/>
<line x1="77.5" y1="571.0" x2="77.5" y2="568.2" stroke="#000" stroke-width="1"/>
<line x1="77.5" y1="447.5" x2="77.5" y2="450.3" stroke="#000" stroke-width="1"/>
<line x1="106.5" y1="571.0" x2="106.5" y2="568.2" stroke="#000" stroke-width="1"/>
<line x1="106.5" y1="447.5" x2="106.5" y2="450.3" stroke="#000" stroke-width="1"/>
<line x1="135.5" y1="571.0" x2="135.5" y2="568.2" stroke="#000" stroke-width="1"/>
<line x1="135.5" y1="447.5" x2="135.5" y2="450.3" stroke="#000" stroke-width="1"/>
<line x1="164.5" y1="571.0" x2="164.5" y2="568.2" stroke="#000" stroke-width="1"/>
<line x1="164.5" y1="447.5" x2="164.5" y2="450.3" stroke="#000" stroke-width="1"/>
<line x1="194.5" y1="571.0" x2="194.5" y2="568.2" stroke="#000" stroke-width="1"/>
<line x1="194.5" y1="447.5" x2="194.5" y2="450.3" stroke="#000" stroke-width="1"/>
<line x1="223.5" y1="571.0" x2="223.5" y2="568.2" stroke="#000" stroke-width="1"/>
<line x1="223.5" y1="447.5" x2="223.5" y2="450.3" stroke="#000" stroke-width="1"/>
<line x1="48.5" y1="571.5" x2="51.3" y2="571.5" stroke="#000" stroke-width="1"/>
<line x1="223.2" y1="571.5" x2="220.39999999999998" y2="571.5" stroke="#000" stroke-width="1"/>
<line x1="48.5" y1="527.5" x2="51.3" y2="527.5" stroke="#000" stroke-width="1"/>
<line x1="223.2" y1="527.5" x2="220.39999999999998" y2="527.5" stroke="#000" stroke-width="1"/>
<line x1="48.5" y1="484.5" x2="51.3" y2="484.5" stroke="#000" stroke-width="1"/>
<line x1="223.2" y1="484.5" x2="220.39999999999998" y2="484.5" stroke="#000" stroke-width="1"/>
<text x="48.50" y="590" text-anchor="middle" font-family='"Liberation Sans", sans-serif' font-size="15.0" >0</text>
<text x="77.62" y="590" text-anchor="middle" font-family='"Liberation Sans", sans-serif' font-size="15.0" >15</text>
<text x="106.73" y="590" text-anchor="middle" font-family='"Liberation Sans", sans-serif' font-size="15.0" >30</text>
<text x="135.85" y="590" text-anchor="middle" font-family='"Liberation Sans", sans-serif' font-size="15.0" >45</text>
<text x="164.97" y="590" text-anchor="middle" font-family='"Liberation Sans", sans-serif' font-size="15.0" >60</text>
<text x="194.08" y="590" text-anchor="middle" font-family='"Liberation Sans", sans-serif' font-size="15.0" >75</text>
<text x="223.20" y="590" text-anchor="middle" font-family='"Liberation Sans", sans-serif' font-size="15.0" >90</text>
<text x="43.80" y="576.90" text-anchor="end" font-family='"Liberation Sans", sans-serif' font-size="15.0" >0</text>
<text x="43.80" y="533.60" text-anchor="end" font-family='"Liberation Sans", sans-serif' font-size="15.0" >10</text>
<text x="43.80" y="490.30" text-anchor="end" font-family='"Liberation Sans", sans-serif' font-size="15.0" >20</text>
<rect x="307.94" y="563.50" width="17.44" height="7.50" fill="#d9d9d9" stroke="#000" stroke-width="1.15"/>
<rect x="325.38" y="531.62" width="17.44" height="39.38" fill="#d9d9d9" stroke="#000" stroke-width="1.15"/>
<rect x="342.82" y="466.00" width="17.44" height="105.00" fill="#d9d9d9" stroke="#000" stroke-width="1.15"/>
<rect x="360.26" y="522.25" width="17.44" height="48.75" fill="#d9d9d9" stroke="#000" stroke-width="1.15"/>
<rect x="377.70" y="527.88" width="17.44" height="43.12" fill="#d9d9d9" stroke="#000" stroke-width="1.15"/>
<rect x="395.14" y="541.00" width="17.44" height="30.00" fill="#d9d9d9" stroke="#000" stroke-width="1.15"/>
<rect x="412.58" y="565.38" width="17.44" height="5.62" fill="#d9d9d9" stroke="#000" stroke-width="1.15"/>
<rect x="430.02" y="565.38" width="17.44" height="5.62" fill="#d9d9d9" stroke="#000" stroke-width="1.15"/>
<rect x="447.46" y="569.12" width="17.44" height="1.88" fill="#d9d9d9" stroke="#000" stroke-width="1.15"/>
<rect x="307.94" y="531.62" width="17.44" height="39.38" fill="#1f5d96" fill-opacity="0.65" stroke="#000" stroke-width="1.15"/>
<rect x="325.38" y="464.12" width="17.44" height="106.88" fill="#1f5d96" fill-opacity="0.65" stroke="#000" stroke-width="1.15"/>
<rect x="342.82" y="458.50" width="17.44" height="112.50" fill="#1f5d96" fill-opacity="0.65" stroke="#000" stroke-width="1.15"/>
<rect x="360.26" y="546.62" width="17.44" height="24.38" fill="#1f5d96" fill-opacity="0.65" stroke="#000" stroke-width="1.15"/>
<rect x="377.70" y="567.25" width="17.44" height="3.75" fill="#1f5d96" fill-opacity="0.65" stroke="#000" stroke-width="1.15"/>
<rect x="412.58" y="569.12" width="17.44" height="1.88" fill="#1f5d96" fill-opacity="0.65" stroke="#000" stroke-width="1.15"/>
<path d="M290.5 447.5 H465.0 M290.5 447.5 V571.0" fill="none" stroke="#000" stroke-width="1.1"/>
<path d="M289.95 571.0 H465.0 V446.95" fill="none" stroke="#000" stroke-width="1.35"/>
<line x1="290.5" y1="571.0" x2="290.5" y2="568.2" stroke="#000" stroke-width="1"/>
<line x1="290.5" y1="447.5" x2="290.5" y2="450.3" stroke="#000" stroke-width="1"/>
<line x1="334.5" y1="571.0" x2="334.5" y2="568.2" stroke="#000" stroke-width="1"/>
<line x1="334.5" y1="447.5" x2="334.5" y2="450.3" stroke="#000" stroke-width="1"/>
<line x1="377.5" y1="571.0" x2="377.5" y2="568.2" stroke="#000" stroke-width="1"/>
<line x1="377.5" y1="447.5" x2="377.5" y2="450.3" stroke="#000" stroke-width="1"/>
<line x1="421.5" y1="571.0" x2="421.5" y2="568.2" stroke="#000" stroke-width="1"/>
<line x1="421.5" y1="447.5" x2="421.5" y2="450.3" stroke="#000" stroke-width="1"/>
<line x1="464.5" y1="571.0" x2="464.5" y2="568.2" stroke="#000" stroke-width="1"/>
<line x1="464.5" y1="447.5" x2="464.5" y2="450.3" stroke="#000" stroke-width="1"/>
<line x1="290.5" y1="571.5" x2="293.3" y2="571.5" stroke="#000" stroke-width="1"/>
<line x1="465.0" y1="571.5" x2="462.2" y2="571.5" stroke="#000" stroke-width="1"/>
<line x1="290.5" y1="533.5" x2="293.3" y2="533.5" stroke="#000" stroke-width="1"/>
<line x1="465.0" y1="533.5" x2="462.2" y2="533.5" stroke="#000" stroke-width="1"/>
<line x1="290.5" y1="496.5" x2="293.3" y2="496.5" stroke="#000" stroke-width="1"/>
<line x1="465.0" y1="496.5" x2="462.2" y2="496.5" stroke="#000" stroke-width="1"/>
<line x1="290.5" y1="458.5" x2="293.3" y2="458.5" stroke="#000" stroke-width="1"/>
<line x1="465.0" y1="458.5" x2="462.2" y2="458.5" stroke="#000" stroke-width="1"/>
<text x="290.50" y="590" text-anchor="middle" font-family='"Liberation Sans", sans-serif' font-size="15.0" >0</text>
<text x="334.10" y="590" text-anchor="middle" font-family='"Liberation Sans", sans-serif' font-size="15.0" >5</text>
<text x="377.70" y="590" text-anchor="middle" font-family='"Liberation Sans", sans-serif' font-size="15.0" >10</text>
<text x="421.30" y="590" text-anchor="middle" font-family='"Liberation Sans", sans-serif' font-size="15.0" >15</text>
<text x="464.90" y="590" text-anchor="middle" font-family='"Liberation Sans", sans-serif' font-size="15.0" >20</text>
<text x="285.80" y="576.90" text-anchor="end" font-family='"Liberation Sans", sans-serif' font-size="15.0" >0</text>
<text x="285.80" y="539.40" text-anchor="end" font-family='"Liberation Sans", sans-serif' font-size="15.0" >20</text>
<text x="285.80" y="501.90" text-anchor="end" font-family='"Liberation Sans", sans-serif' font-size="15.0" >40</text>
<text x="285.80" y="464.40" text-anchor="end" font-family='"Liberation Sans", sans-serif' font-size="15.0" >60</text>
<rect x="398.2" y="451.8" width="62.5" height="39.4" fill="#fff" stroke="#000" stroke-width="1"/>
<rect x="401.8" y="455.8" width="24.7" height="12.6" fill="#d9d9d9" stroke="#000" stroke-width="1"/>
<rect x="401.8" y="474.2" width="24.7" height="12.8" fill="#6a95bd" stroke="#000" stroke-width="1"/>
<text x="430.20" y="465.6" font-family='"Liberation Serif", serif' font-size="16.5" font-style="italic">M</text>
<text x="444.61" y="468.2" font-family='"Liberation Serif", serif' font-size="11" font-style="italic">A</text>
<text x="430.20" y="484.7" font-family='"Liberation Serif", serif' font-size="16.5" font-style="italic">M</text>
<text x="443.2" y="486.4" font-family='"Liberation Serif", serif' font-size="11">ms</text>
<text x="55.8" y="82.5" font-family='"Liberation Serif", serif' font-size="17" stroke="#000" stroke-width="0.55" textLength="20.2" lengthAdjust="spacingAndGlyphs">(a)</text>
<text x="332.4" y="58.3" font-family='"Liberation Serif", serif' font-size="17" stroke="#000" stroke-width="0.55" textLength="20.2" lengthAdjust="spacingAndGlyphs">(b)</text>
<text x="332.4" y="264.6" font-family='"Liberation Serif", serif' font-size="17" stroke="#000" stroke-width="0.55" textLength="18.8" lengthAdjust="spacingAndGlyphs">(c)</text>
<text x="54.8" y="463.6" font-family='"Liberation Serif", serif' font-size="17" stroke="#000" stroke-width="0.55" textLength="20.2" lengthAdjust="spacingAndGlyphs">(d)</text>
<text x="296.4" y="463.6" font-family='"Liberation Serif", serif' font-size="17" stroke="#000" stroke-width="0.55" textLength="18.8" lengthAdjust="spacingAndGlyphs">(e)</text>
<g transform="translate(116.55 428)"><text x="0.65" y="0" font-family='"Liberation Serif", serif' font-size="17.0" font-style="italic" textLength="11.62" lengthAdjust="spacingAndGlyphs">X</text><text x="13.80" y="2.1" font-family='"Liberation Serif", serif' font-size="11.3" font-style="italic" letter-spacing="1.1">GSE</text><path d="M49.80 -12.60 H47.40 V3.90 H49.80" fill="none" stroke="#000" stroke-width="0.8"/><text x="50.50" y="0" font-family='"Liberation Serif", serif' font-size="17.0" font-style="italic">R</text><text x="62.34" y="2.1" font-family='"Liberation Serif", serif' font-size="11.3" font-style="italic">E</text><path d="M71.50 -12.60 H73.90 V3.90 H71.50" fill="none" stroke="#000" stroke-width="0.8"/></g>
<g transform="translate(13.2 261.20) rotate(-90)"><text x="-0.00" y="0" font-family='"Liberation Serif", serif' font-size="17.0" font-style="italic" textLength="9.47" lengthAdjust="spacingAndGlyphs">Y</text><text x="10.30" y="2.1" font-family='"Liberation Serif", serif' font-size="11.3" font-style="italic" letter-spacing="1.1">GSE</text><path d="M46.30 -12.60 H43.90 V3.90 H46.30" fill="none" stroke="#000" stroke-width="0.8"/><text x="47.00" y="0" font-family='"Liberation Serif", serif' font-size="17.0" font-style="italic">R</text><text x="58.84" y="2.1" font-family='"Liberation Serif", serif' font-size="11.3" font-style="italic">E</text><path d="M68.00 -12.60 H70.40 V3.90 H68.00" fill="none" stroke="#000" stroke-width="0.8"/></g>
<g transform="translate(358.55 221.8)"><text x="0.65" y="0" font-family='"Liberation Serif", serif' font-size="17.0" font-style="italic" textLength="11.62" lengthAdjust="spacingAndGlyphs">X</text><text x="13.80" y="2.1" font-family='"Liberation Serif", serif' font-size="11.3" font-style="italic" letter-spacing="1.1">GSE</text><path d="M49.80 -12.60 H47.40 V3.90 H49.80" fill="none" stroke="#000" stroke-width="0.8"/><text x="50.50" y="0" font-family='"Liberation Serif", serif' font-size="17.0" font-style="italic">R</text><text x="62.34" y="2.1" font-family='"Liberation Serif", serif' font-size="11.3" font-style="italic">E</text><path d="M71.50 -12.60 H73.90 V3.90 H71.50" fill="none" stroke="#000" stroke-width="0.8"/></g>
<g transform="translate(297.8 149.05) rotate(-90)"><text x="-0.00" y="0" font-family='"Liberation Serif", serif' font-size="17.0" font-style="italic" textLength="10.24" lengthAdjust="spacingAndGlyphs">Z</text><text x="11.20" y="2.1" font-family='"Liberation Serif", serif' font-size="11.3" font-style="italic" letter-spacing="1.1">GSE</text><path d="M47.20 -12.60 H44.80 V3.90 H47.20" fill="none" stroke="#000" stroke-width="0.8"/><text x="47.90" y="0" font-family='"Liberation Serif", serif' font-size="17.0" font-style="italic">R</text><text x="59.74" y="2.1" font-family='"Liberation Serif", serif' font-size="11.3" font-style="italic">E</text><path d="M68.90 -12.60 H71.30 V3.90 H68.90" fill="none" stroke="#000" stroke-width="0.8"/></g>
<g transform="translate(360.30 428)"><text x="-0.00" y="0" font-family='"Liberation Serif", serif' font-size="17.0" font-style="italic" textLength="9.47" lengthAdjust="spacingAndGlyphs">Y</text><text x="10.30" y="2.1" font-family='"Liberation Serif", serif' font-size="11.3" font-style="italic" letter-spacing="1.1">GSE</text><path d="M46.30 -12.60 H43.90 V3.90 H46.30" fill="none" stroke="#000" stroke-width="0.8"/><text x="47.00" y="0" font-family='"Liberation Serif", serif' font-size="17.0" font-style="italic">R</text><text x="58.84" y="2.1" font-family='"Liberation Serif", serif' font-size="11.3" font-style="italic">E</text><path d="M68.00 -12.60 H70.40 V3.90 H68.00" fill="none" stroke="#000" stroke-width="0.8"/></g>
<g transform="translate(292 355.65) rotate(-90)"><text x="-0.00" y="0" font-family='"Liberation Serif", serif' font-size="17.0" font-style="italic" textLength="10.24" lengthAdjust="spacingAndGlyphs">Z</text><text x="11.20" y="2.1" font-family='"Liberation Serif", serif' font-size="11.3" font-style="italic" letter-spacing="1.1">GSE</text><path d="M47.20 -12.60 H44.80 V3.90 H47.20" fill="none" stroke="#000" stroke-width="0.8"/><text x="47.90" y="0" font-family='"Liberation Serif", serif' font-size="17.0" font-style="italic">R</text><text x="59.74" y="2.1" font-family='"Liberation Serif", serif' font-size="11.3" font-style="italic">E</text><path d="M68.90 -12.60 H71.30 V3.90 H68.90" fill="none" stroke="#000" stroke-width="0.8"/></g>
<text x="19" y="509" text-anchor="middle" font-family='"Liberation Serif", serif' font-size="16.5" textLength="125" lengthAdjust="spacingAndGlyphs" transform="rotate(-90 19 509)">Number of events</text>
<text x="260.9" y="509" text-anchor="middle" font-family='"Liberation Serif", serif' font-size="16.5" textLength="125" lengthAdjust="spacingAndGlyphs" transform="rotate(-90 260.9 509)">Number of events</text>
<text x="114.3" y="608" font-family='"Liberation Serif", serif' font-size="15.5" font-style="italic">θ</text>
<text x="122.6" y="609.6" font-family='"Liberation Serif", serif' font-size="10.5" textLength="12.3" lengthAdjust="spacingAndGlyphs">Bn</text>
<path d="M146.80 595.50 H144.60 V611.50 H146.80" fill="none" stroke="#000" stroke-width="0.8"/>
<path d="M154.20 595.50 H156.40 V611.50 H154.20" fill="none" stroke="#000" stroke-width="0.8"/>
<circle cx="150.1" cy="599" r="2.0" fill="none" stroke="#000" stroke-width="0.8"/>
<text x="134.6" y="11" font-family='"Liberation Serif", serif' font-size="15.5" font-style="italic">θ</text>
<text x="141.4" y="14.0" font-family='"Liberation Serif", serif' font-size="10.5" textLength="12.3" lengthAdjust="spacingAndGlyphs">Bn</text>
<path d="M164.60 -0.30 H162.40 V15.60 H164.60" fill="none" stroke="#000" stroke-width="0.8"/>
<path d="M170.00 -0.30 H172.20 V15.60 H170.00" fill="none" stroke="#000" stroke-width="0.8"/>
<circle cx="166.9" cy="3.4" r="2.0" fill="none" stroke="#000" stroke-width="0.8"/>
<text x="370.40" y="607.6" font-family='"Liberation Serif", serif' font-size="16.5" font-style="italic">M</text>
<circle cx="203.8" cy="207.6" r="7.1" fill="#fff" stroke="#000" stroke-width="1.7"/>
<path d="M203.8 200.5 A7.1 7.1 0 0 1 203.8 214.7 Z" fill="#000"/>
<circle cx="450.0" cy="146.0" r="7.5" fill="#fff" stroke="#000" stroke-width="1.8"/>
<path d="M450.0 138.5 A7.5 7.5 0 0 1 450.0 153.5 Z" fill="#000"/>
<circle cx="388.8" cy="326.8" r="3.05" fill="#fff" stroke="#000" stroke-width="1.5"/>
</svg></body></html>
